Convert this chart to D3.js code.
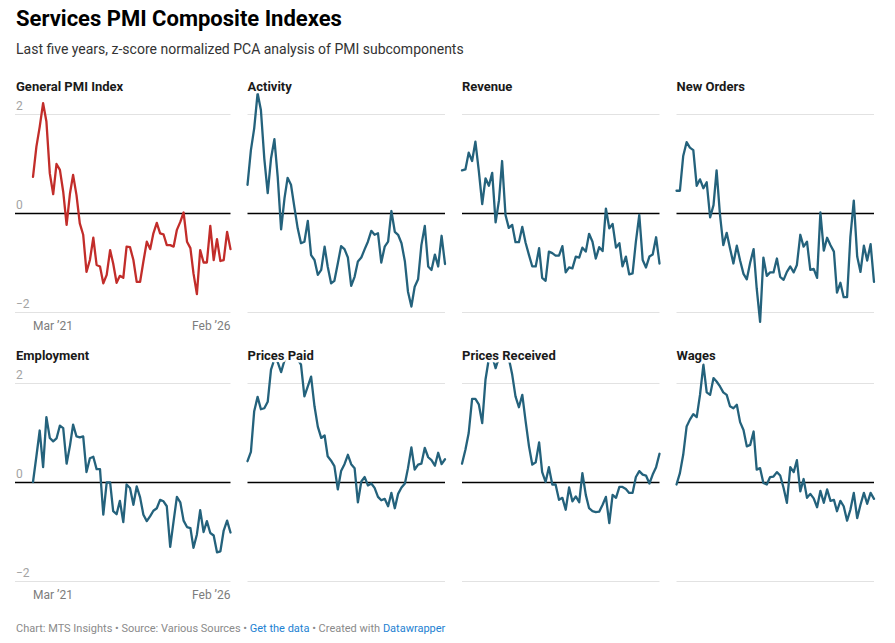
<!DOCTYPE html>
<html>
<head>
<meta charset="utf-8">
<script src="https://cdn.jsdelivr.net/npm/d3@7"></script>
<style>
  body { margin: 0; background: #fff; }
  svg { font-family: Roboto, "Noto Sans", sans-serif; display: block; }
</style>
</head>
<body>
<script>
  // monthly readings, Mar 2021 .. Feb 2026
  const general = [0.73, 1.34, 1.74, 2.22, 1.85, 0.80, 0.38, 0.99, 0.87, 0.43,
    -0.24, 0.40, 0.77, 0.36, -0.21, -0.44, -1.19, -0.95, -0.50, -1.05,
    -1.08, -1.42, -1.25, -0.75, -1.02, -1.41, -1.27, -1.31, -0.68, -0.69,
    -0.95, -1.39, -1.39, -0.98, -0.58, -0.73, -0.41, -0.20, -0.41, -0.43,
    -0.65, -0.65, -0.68, -0.34, -0.18, 0.01, -0.58, -0.71, -1.22, -1.64,
    -0.75, -1.00, -1.00, -0.26, -0.95, -0.53, -0.97, -0.95, -0.38, -0.73];
  const activity = [0.57, 1.27, 1.71, 2.42, 2.08, 1.10, 0.40, 1.10, 1.49, 0.73,
    -0.33, 0.30, 0.71, 0.57, 0.13, -0.31, -0.61, -0.58, -0.16, -0.85,
    -0.95, -1.25, -1.15, -0.68, -1.08, -1.42, -1.37, -1.02, -0.67, -0.73,
    -0.90, -1.47, -1.29, -0.98, -0.90, -0.73, -0.58, -0.36, -0.44, -0.41,
    -1.00, -0.68, -0.58, 0.04, -0.38, -0.44, -0.61, -0.98, -1.59, -1.89,
    -1.49, -1.34, -0.65, -0.26, -1.08, -1.15, -0.84, -1.08, -0.46, -1.03];
  const revenue = [0.86, 0.88, 1.22, 1.05, 1.44, 0.85, 0.18, 0.70, 0.55, 0.81,
    -0.19, 0.26, 1.05, -0.04, -0.30, -0.24, -0.59, -0.59, -0.28, -0.60,
    -0.85, -1.08, -1.08, -0.71, -1.31, -1.37, -0.78, -0.81, -0.86, -0.86,
    -0.67, -1.20, -1.10, -1.12, -0.88, -0.90, -0.70, -0.78, -0.42, -0.58,
    -0.92, -0.69, -0.77, 0.09, -0.31, -0.22, -0.70, -0.61, -1.08, -0.88,
    -1.24, -1.22, -0.58, -0.04, -0.95, -1.10, -0.88, -0.84, -0.49, -1.02];
  const newOrders = [0.45, 0.45, 1.15, 1.43, 1.32, 1.27, 0.55, 0.68, 0.50, 0.62,
    -0.09, 0.16, 0.86, -0.04, -0.65, -0.40, -0.71, -1.02, -0.66, -0.96,
    -1.23, -1.34, -1.00, -0.73, -1.52, -2.20, -0.90, -1.27, -1.20, -1.20,
    -0.92, -1.29, -1.35, -1.19, -1.08, -1.20, -1.05, -0.44, -0.68, -0.58,
    -1.15, -1.13, -1.31, 0.01, -0.76, -0.50, -0.65, -0.78, -1.61, -1.41,
    -1.70, -1.70, -0.48, 0.25, -0.88, -1.19, -0.66, -0.96, -0.63, -1.39];
  const employment = [0.00, 0.52, 1.04, 0.30, 1.31, 0.89, 0.82, 0.88, 1.14, 1.09,
    0.37, 0.74, 1.16, 0.92, 0.90, 0.92, 0.20, 0.48, 0.51, 0.26,
    0.26, -0.66, -0.01, -0.01, -0.59, -0.65, -0.38, -0.81, -0.05, -0.12,
    -0.46, -0.09, -0.31, -0.66, -0.79, -0.69, -0.58, -0.53, -0.36, -0.39,
    -0.49, -1.31, -0.79, -0.30, -0.41, -0.78, -0.91, -0.93, -1.33, -1.06,
    -0.57, -1.01, -0.79, -1.03, -1.08, -1.42, -1.40, -0.98, -0.78, -1.02];
  const pricesPaid = [0.42, 0.61, 1.43, 1.72, 1.47, 1.49, 1.62, 2.27, 2.48, 2.42,
    2.22, 2.46, 2.52, 2.50, 2.52, 2.48, 2.37, 1.73, 1.93, 2.13,
    1.53, 1.12, 0.89, 0.94, 0.52, 0.43, 0.32, -0.15, 0.22, 0.36,
    0.55, 0.36, 0.28, -0.41, 0.01, 0.10, -0.07, -0.03, -0.12, -0.30,
    -0.37, -0.34, -0.49, -0.22, -0.53, -0.24, -0.11, -0.03, 0.28, 0.70,
    0.25, 0.35, 0.37, 0.69, 0.50, 0.44, 0.33, 0.59, 0.36, 0.46];
  const pricesReceived = [0.37, 0.65, 0.99, 1.68, 1.68, 1.57, 1.19, 2.07, 2.50, 2.55,
    2.30, 2.52, 2.56, 2.56, 2.50, 2.17, 1.73, 1.51, 1.76, 1.23,
    0.72, 0.35, 0.40, 0.80, 0.20, 0.00, 0.30, -0.05, -0.05, -0.36,
    -0.32, -0.56, -0.11, -0.39, -0.29, -0.41, 0.18, -0.26, -0.53, -0.59,
    -0.61, -0.60, -0.46, -0.30, -0.83, -0.26, -0.32, -0.10, -0.10, -0.14,
    -0.22, -0.22, 0.10, 0.22, 0.15, 0.13, -0.03, 0.15, 0.30, 0.57];
  const wages = [-0.05, 0.18, 0.55, 1.12, 1.26, 1.37, 1.31, 1.76, 2.37, 1.81,
    1.76, 2.10, 2.03, 1.93, 1.81, 1.76, 1.53, 1.49, 1.56, 1.21,
    1.05, 0.72, 0.75, 1.02, 0.25, 0.28, -0.02, -0.05, 0.10, 0.11,
    0.20, 0.13, -0.12, -0.42, 0.30, 0.20, 0.44, -0.19, 0.06, -0.32,
    -0.24, -0.33, -0.51, -0.18, -0.42, -0.15, -0.38, -0.36, -0.59, -0.38,
    -0.49, -0.78, -0.56, -0.22, -0.73, -0.46, -0.22, -0.44, -0.22, -0.34];

  const panelNames = ["General PMI Index", "Activity", "Revenue", "New Orders",
    "Employment", "Prices Paid", "Prices Received", "Wages"];
  const panelValues = [general, activity, revenue, newOrders,
    employment, pricesPaid, pricesReceived, wages];
  const yTicks = [-2, 0, 2];
  const xTickLabels = ["Mar \u201921", "Feb \u201926"];

  const months = d3.timeMonth.range(new Date(2021, 2, 1), new Date(2026, 2, 1));

  const width = 895;
  const height = 643;
  const blue = "#24627c";
  const red = "#c22d2a";

  const colLeft = [33, 247.5, 462, 676.5];
  const plotW = 197.5;
  const rowTop = [114, 383];
  const plotH = 198;

  const svg = d3.select("body").append("svg")
    .attr("width", width)
    .attr("height", height);

  svg.append("text")
    .attr("x", 16).attr("y", 26)
    .attr("font-size", 22).attr("font-weight", 700).attr("fill", "#000")
    .text("Services PMI Composite Indexes");

  svg.append("text")
    .attr("x", 16).attr("y", 54)
    .attr("font-size", 14).attr("fill", "#333")
    .text("Last five years, z-score normalized PCA analysis of PMI subcomponents");

  panelNames.forEach((name, i) => {
    const col = i % 4;
    const row = Math.floor(i / 4);
    const x0 = colLeft[col];
    const gridLeft = col === 0 ? 15 : x0;
    const top = rowTop[row];

    const x = d3.scaleTime().domain(d3.extent(months)).range([x0, x0 + plotW]);
    const y = d3.scaleLinear().domain([-2, 2]).range([top + plotH, top]);

    const g = svg.append("g");

    g.selectAll("line.grid")
      .data(yTicks)
      .join("line")
      .attr("class", "grid")
      .attr("x1", gridLeft).attr("x2", x0 + plotW)
      .attr("y1", (d) => y(d) + 0.5).attr("y2", (d) => y(d) + 0.5)
      .attr("stroke", (d) => d === 0 ? "#000" : "#e2e2e2")
      .attr("stroke-width", (d) => d === 0 ? 1.3 : 1);

    if (col === 0) {
      g.selectAll("text.ylab")
        .data(yTicks)
        .join("text")
        .attr("class", "ylab")
        .attr("x", 16).attr("y", (d) => y(d) - 4)
        .attr("font-size", 12).attr("fill", "#a3a3a3")
        .text((d) => d < 0 ? "\u2212" + Math.abs(d) : d);

      const ends = d3.extent(months);
      g.selectAll("text.xlab")
        .data(ends)
        .join("text")
        .attr("class", "xlab")
        .attr("x", (d) => x(d))
        .attr("y", top + plotH + 18)
        .attr("text-anchor", (d, k) => k === 0 ? "start" : "end")
        .attr("font-size", 12).attr("fill", "#7c7c7c")
        .text((d, k) => xTickLabels[k]);
    }

    const line = d3.line()
      .x((d, k) => x(months[k]))
      .y((d) => y(d));

    g.append("path")
      .datum(panelValues[i])
      .attr("d", line)
      .attr("fill", "none")
      .attr("stroke", i === 0 ? red : blue)
      .attr("stroke-width", 2.3)
      .attr("stroke-linejoin", "round")
      .attr("stroke-linecap", "round");

    g.append("text")
      .attr("x", col === 0 ? 16 : x0)
      .attr("y", top - 23)
      .attr("font-size", 13).attr("font-weight", 700).attr("fill", "#1a1a1a")
      .attr("stroke", "#fff").attr("stroke-width", 5)
      .attr("stroke-linejoin", "round")
      .attr("paint-order", "stroke")
      .text(name);
  });

  const footer = svg.append("text")
    .attr("x", 16).attr("y", 632)
    .attr("font-size", 11).attr("fill", "#8a8a8a");
  footer.append("tspan").text("Chart: MTS Insights \u2022 Source: Various Sources \u2022 ");
  footer.append("tspan").attr("fill", "#1d81d2").text("Get the data");
  footer.append("tspan").text(" \u2022 Created with ");
  footer.append("tspan").attr("fill", "#1d81d2").text("Datawrapper");
</script>
</body>
</html>
